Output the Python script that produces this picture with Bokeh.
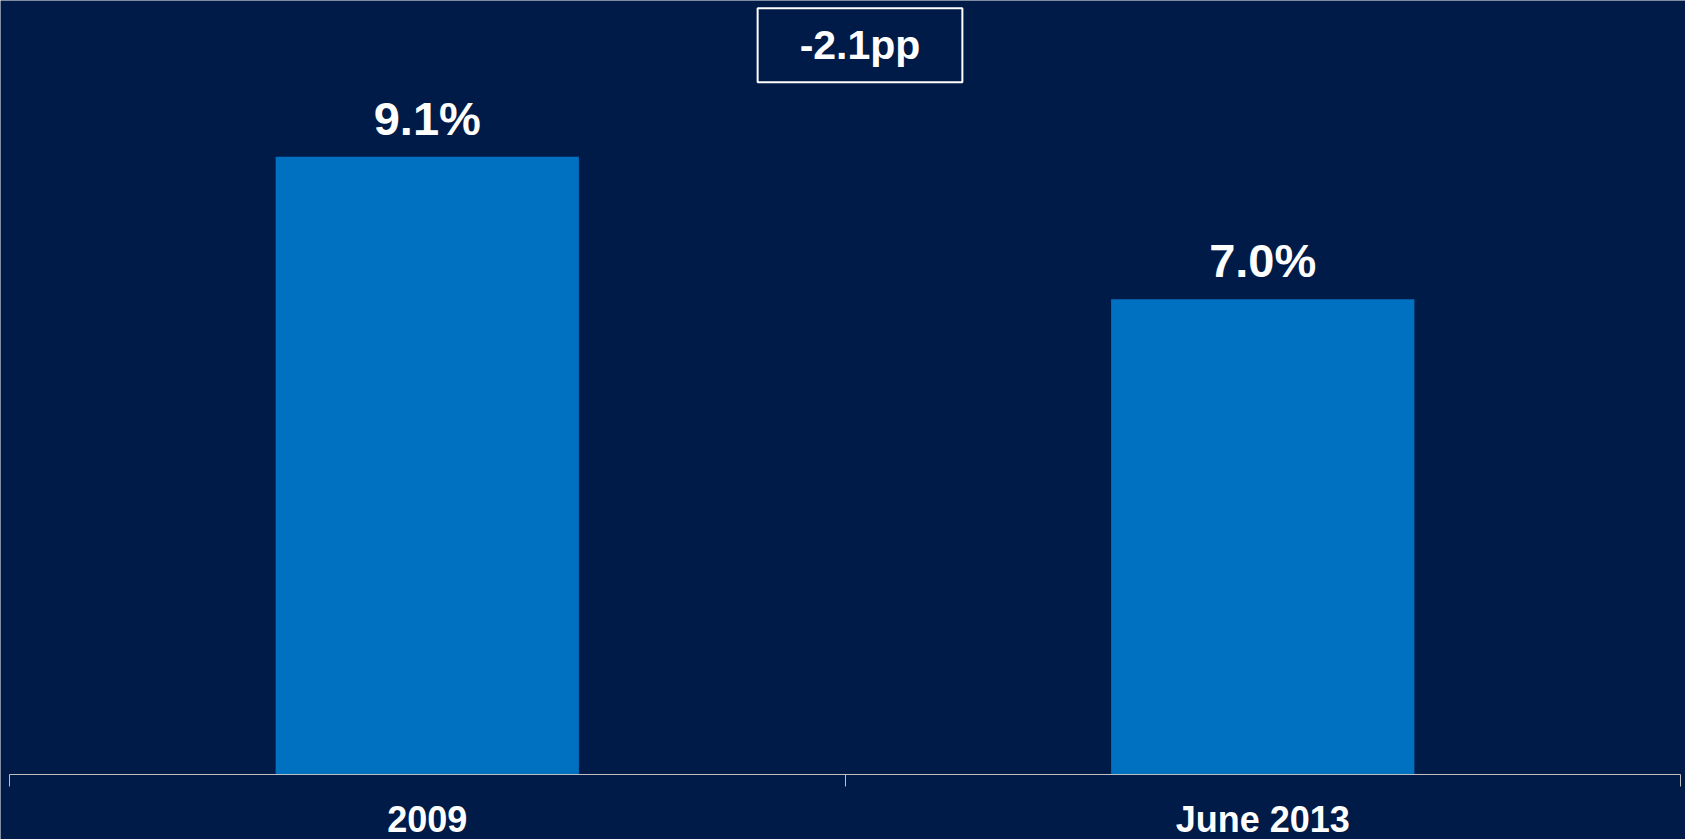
from bokeh.plotting import figure
from bokeh.models import ColumnDataSource, LabelSet, Label, FixedTicker, Range1d
from bokeh.core.properties import value
from bokeh.embed import file_html
from bokeh.resources import INLINE

categories = ["2009", "June 2013"]
values = [9.1, 7.0]

NAVY = "#001B47"
BLUE = "#0070C0"
FONT = "Liberation Sans"

xpos = [i + 0.5 for i in range(len(categories))]
labels = [f"{v:.1f}%" for v in values]
source = ColumnDataSource(data=dict(x=xpos, top=values, label=labels))

p = figure(width=1685, height=839, output_backend="svg", toolbar_location=None,
           x_range=Range1d(-0.0108, len(categories) + 0.006),
           y_range=Range1d(-0.957, 11.40),
           y_axis_location=None, min_border_left=0, min_border_right=0,
           min_border_top=0, min_border_bottom=0)
p.background_fill_color = NAVY
p.border_fill_color = NAVY
p.outline_line_color = None
p.grid.visible = False

p.vbar(x="x", top="top", width=0.363, source=source, color=BLUE, line_color=None)

ax = p.xaxis[0]
ax.fixed_location = 0
ax.bounds = (0, len(categories))
ax.ticker = FixedTicker(ticks=xpos, minor_ticks=list(range(len(categories) + 1)))
ax.major_label_overrides = {x: c for x, c in zip(xpos, categories)}
ax.axis_line_color = "#BFBFBF"
ax.axis_line_width = 1
ax.major_tick_line_color = None
ax.major_tick_out = 0
ax.major_tick_in = 0
ax.minor_tick_line_color = "#BFBFBF"
ax.minor_tick_out = 12
ax.minor_tick_in = 0
ax.major_label_standoff = 12
ax.major_label_text_font = FONT
ax.major_label_text_font_style = "bold"
ax.major_label_text_font_size = "36px"
ax.major_label_text_color = "white"

p.add_layout(LabelSet(x="x", y="top", text="label", source=source, y_offset=22,
                      text_align="center", text_baseline="alphabetic",
                      text_font=value(FONT), text_font_style="bold",
                      text_font_size="47px", text_color="white"))

delta = values[-1] - values[0]
p.add_layout(Label(x=1.0, y=10.74, x_offset=15, text=f"{delta:.1f}pp",
                   text_align="center", text_baseline="middle",
                   text_font=FONT, text_font_style="bold", text_font_size="41px",
                   text_color="white", border_line_color="white", border_line_width=2,
                   padding=dict(left=42, right=42, top=14, bottom=14)))

html = file_html(p, INLINE)
html = html.replace("<body>", f'<body style="margin:0;background:{NAVY};">', 1)
open("out.html", "w").write(html)
